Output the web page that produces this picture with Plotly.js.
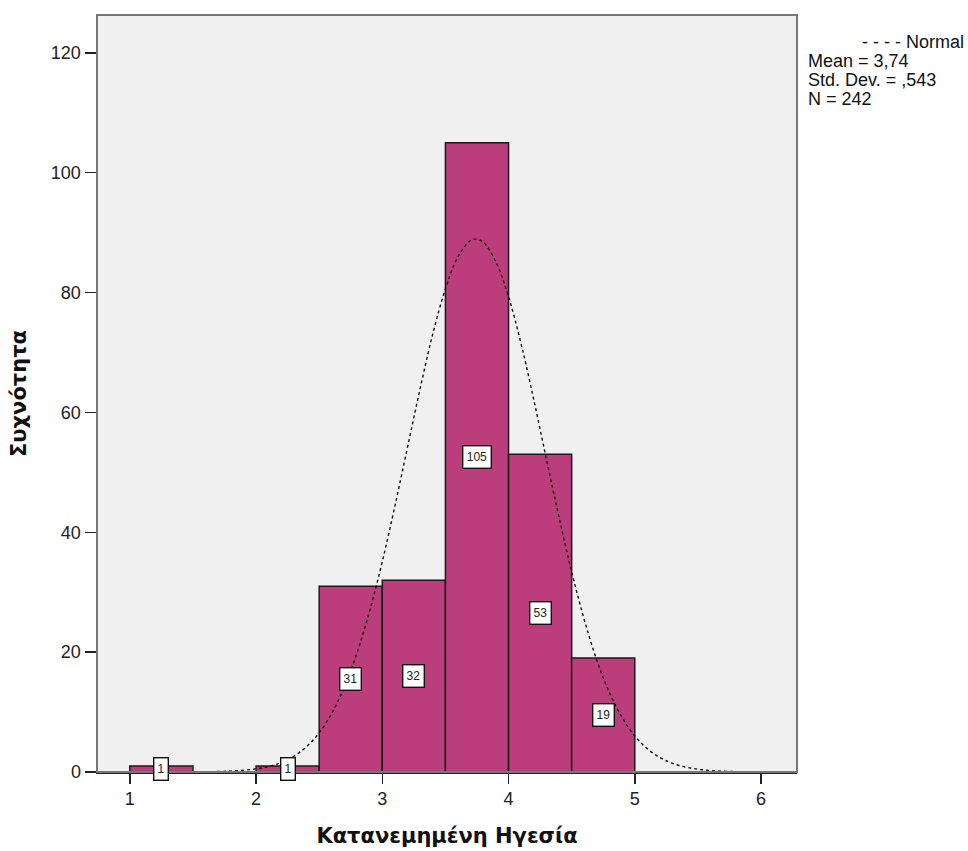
<!DOCTYPE html>
<html>
<head>
<meta charset="utf-8">
<script src="https://cdn.plot.ly/plotly-3.0.1.min.js"></script>
<style>html,body{margin:0;padding:0;background:#fff;}#chart{width:968px;height:851px;}</style>
</head>
<body>
<div id="chart"></div>
<script>
// Histogram bins (centres) and counts
var binCenters = [1.25, 2.25, 2.75, 3.25, 3.75, 4.25, 4.75];
var counts = [1, 1, 31, 32, 105, 53, 19];
var binWidth = 0.5;

// Normal curve (Mean 3,74, SD ,543, N 242)
var curveX = [1.5, 1.8, 2.0, 2.1, 2.2, 2.3, 2.4, 2.5, 2.6, 2.7, 2.8, 2.9, 3.0, 3.1, 3.2, 3.3, 3.4, 3.5, 3.6, 3.7, 3.74, 3.8, 3.9, 4.0, 4.1, 4.2, 4.3, 4.4, 4.5, 4.6, 4.7, 4.8, 4.9, 5.0, 5.1, 5.2, 5.3, 5.4, 5.5, 5.6, 5.8, 6.0];
var curveY = [0.02, 0.15, 0.52, 0.93, 1.59, 2.64, 4.23, 6.55, 9.81, 14.2, 19.9, 26.9, 35.1, 44.4, 54.2, 64.0, 73.1, 80.6, 86.0, 88.7, 88.9, 88.4, 85.1, 79.3, 71.4, 62.1, 52.2, 42.5, 33.4, 25.4, 18.6, 13.2, 9.08, 6.02, 3.86, 2.39, 1.43, 0.83, 0.47, 0.25, 0.06, 0.01];

var xTicks = [1, 2, 3, 4, 5, 6];
var yTicks = [0, 20, 40, 60, 80, 100, 120];

var legendTitle = "- - - - Normal";
var legendLines = ["Mean = 3,74", "Std. Dev. = ,543", "N = 242"];

var bars = {
  type: 'bar',
  x: binCenters,
  y: counts,
  width: binCenters.map(function(){return binWidth;}),
  marker: {color: '#BB3D7B', line: {color: '#1a1a1a', width: 1.5}},
  hoverinfo: 'x+y',
  showlegend: false
};

var curve = {
  type: 'scatter',
  mode: 'lines',
  x: curveX,
  y: curveY,
  line: {color: '#111', width: 1.4, dash: '3px,3px', shape: 'spline'},
  showlegend: false,
  hoverinfo: 'skip'
};

var annotations = counts.map(function(c, i){
  var s = String(c);
  return {
    x: binCenters[i], y: c / 2, xref: 'x', yref: 'y',
    text: s, showarrow: false,
    width: 7 * s.length + 4, height: 19,
    font: {family: 'Liberation Sans, Arial, sans-serif', size: 12, color: '#222'},
    bgcolor: '#ffffff', bordercolor: '#111', borderwidth: 1.4, borderpad: 1
  };
});

// legend block (pixel positions converted to paper coords)
var plotL = 97, plotW = 700, plotT = 15, plotH = 757;
function px(xp){ return (xp - plotL) / plotW; }
function py(yp){ return 1 - (yp - plotT) / plotH; }

annotations.push({
  xref: 'paper', yref: 'paper', x: px(966), y: py(42), xanchor: 'right', yanchor: 'middle',
  text: legendTitle, showarrow: false, align: 'right',
  font: {family: 'Liberation Sans, Arial, sans-serif', size: 18, color: '#111'}
});
legendLines.forEach(function(t, i){
  annotations.push({
    xref: 'paper', yref: 'paper', x: px(806), y: py(61 + 19 * i), xanchor: 'left', yanchor: 'middle',
    text: t, showarrow: false, align: 'left',
    font: {family: 'Liberation Sans, Arial, sans-serif', size: 18, color: '#111'}
  });
});

var layout = {
  width: 968, height: 851,
  margin: {l: 97, r: 171, t: 15, b: 79},
  paper_bgcolor: '#ffffff',
  plot_bgcolor: '#F0F0F0',
  bargap: 0,
  font: {family: 'Liberation Sans, Arial, sans-serif', size: 14, color: '#222'},
  xaxis: {
    range: [0.74, 6.285],
    tickvals: xTicks, ticktext: xTicks.map(String),
    ticks: 'outside', ticklen: 10, tickwidth: 1.5, tickcolor: '#222',
    showgrid: false, zeroline: false,
    showline: true, linecolor: '#222', linewidth: 1.5,
    tickfont: {size: 18, color: '#222'},
    title: {text: 'Κατανεμημένη Ηγεσία', font: {family: 'DejaVu Sans, Verdana, sans-serif', size: 21, color: '#111', weight: 'bold'}, standoff: 20}
  },
  yaxis: {
    range: [0, 126.3],
    tickvals: yTicks, ticktext: yTicks.map(String),
    ticks: 'outside', ticklen: 11, tickwidth: 1.5, tickcolor: '#222',
    showgrid: false, zeroline: false,
    showline: true, linecolor: '#222', linewidth: 1.5,
    tickfont: {size: 18, color: '#222'},
    title: {text: 'Συχνότητα', font: {family: 'DejaVu Sans, Verdana, sans-serif', size: 21, color: '#111', weight: 'bold'}, standoff: 18}
  },
  shapes: [{
    type: 'rect', xref: 'paper', yref: 'paper', x0: 0, x1: 1, y0: 0, y1: 1,
    line: {color: '#777', width: 2}, fillcolor: 'rgba(0,0,0,0)', layer: 'above'
  }],
  annotations: annotations
};

Plotly.newPlot('chart', [bars, curve], layout, {displayModeBar: false, staticPlot: true});
</script>
</body>
</html>
